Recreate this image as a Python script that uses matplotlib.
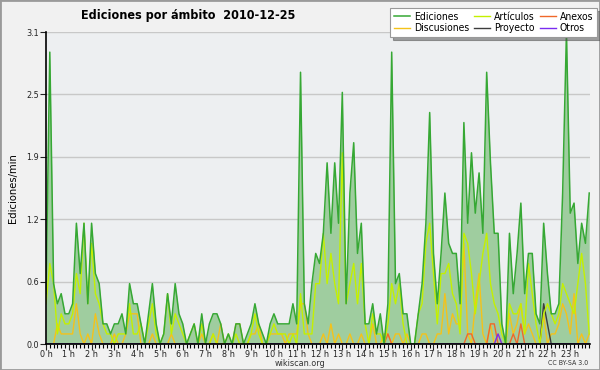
import numpy as np
import matplotlib
matplotlib.use("Agg")
import matplotlib.pyplot as plt
from matplotlib.patches import Rectangle

# ediciones por minuto, una muestra cada 10 minutos (144 por día)
ediciones = [
    0.5, 2.9, 0.6, 0.4, 0.5, 0.3, 0.3, 0.4, 1.2, 0.7, 1.2, 0.4,
    1.2, 0.7, 0.6, 0.2, 0.2, 0.1, 0.2, 0.2, 0.3, 0.1, 0.6, 0.4,
    0.4, 0.2, 0.0, 0.3, 0.6, 0.2, 0.0, 0.1, 0.5, 0.2, 0.6, 0.3,
    0.2, 0.0, 0.1, 0.2, 0.0, 0.3, 0.0, 0.2, 0.3, 0.3, 0.2, 0.0,
    0.1, 0.0, 0.2, 0.2, 0.0, 0.1, 0.2, 0.4, 0.2, 0.1, 0.0, 0.2,
    0.3, 0.2, 0.2, 0.2, 0.2, 0.4, 0.2, 2.7, 0.4, 0.2, 0.6, 0.9,
    0.8, 1.1, 1.8, 1.1, 1.8, 1.2, 2.5, 0.4, 1.5, 2.0, 0.9, 1.2,
    0.2, 0.2, 0.4, 0.1, 0.3, 0.0, 0.4, 2.9, 0.6, 0.7, 0.3, 0.3,
    0.0, 0.0, 0.3, 0.6, 1.2, 2.3, 0.9, 0.4, 0.9, 1.5, 1.0, 0.9,
    0.9, 0.4, 2.2, 1.2, 1.9, 1.3, 1.7, 1.1, 2.7, 1.8, 1.1, 1.1,
    0.2, 0.0, 1.1, 0.5, 0.9, 1.4, 0.5, 0.9, 0.9, 0.3, 0.2, 1.2,
    0.7, 0.3, 0.3, 0.4, 1.5, 3.1, 1.3, 1.4, 0.8, 1.2, 1.0, 1.5,
]
articulos = [
    0.4, 0.8, 0.6, 0.1, 0.3, 0.2, 0.2, 0.3, 0.7, 0.5, 1.2, 0.4,
    1.0, 0.5, 0.4, 0.2, 0.1, 0.1, 0.0, 0.1, 0.1, 0.1, 0.4, 0.1,
    0.1, 0.2, 0.0, 0.2, 0.4, 0.1, 0.0, 0.1, 0.5, 0.1, 0.3, 0.2,
    0.1, 0.0, 0.1, 0.2, 0.0, 0.2, 0.0, 0.0, 0.1, 0.0, 0.0, 0.0,
    0.1, 0.0, 0.1, 0.0, 0.0, 0.0, 0.1, 0.3, 0.1, 0.0, 0.0, 0.1,
    0.2, 0.1, 0.1, 0.1, 0.0, 0.1, 0.0, 0.5, 0.1, 0.1, 0.1, 0.6,
    0.6, 1.1, 0.6, 0.9, 0.6, 0.4, 1.9, 0.4, 0.6, 0.8, 0.4, 0.8,
    0.2, 0.0, 0.3, 0.1, 0.1, 0.0, 0.2, 0.6, 0.4, 0.6, 0.2, 0.0,
    0.0, 0.0, 0.3, 0.4, 1.0, 1.2, 0.7, 0.2, 0.7, 0.7, 0.8, 0.5,
    0.4, 0.1, 1.1, 1.0, 0.7, 0.3, 0.6, 0.9, 1.1, 0.6, 0.4, 0.3,
    0.1, 0.0, 0.4, 0.3, 0.3, 0.4, 0.1, 0.8, 0.5, 0.2, 0.0, 0.3,
    0.4, 0.3, 0.2, 0.3, 0.6, 0.5, 0.4, 0.3, 0.6, 0.9, 0.6, 0.1,
]
discusiones = [
    0.0, 0.0, 0.0, 0.2, 0.1, 0.1, 0.1, 0.1, 0.4, 0.1, 0.0, 0.1,
    0.0, 0.3, 0.1, 0.0, 0.0, 0.0, 0.1, 0.0, 0.0, 0.1, 0.3, 0.3,
    0.3, 0.0, 0.0, 0.0, 0.1, 0.0, 0.0, 0.0, 0.0, 0.1, 0.0, 0.0,
    0.0, 0.0, 0.0, 0.0, 0.0, 0.1, 0.0, 0.0, 0.1, 0.0, 0.2, 0.0,
    0.0, 0.0, 0.2, 0.2, 0.0, 0.0, 0.1, 0.1, 0.2, 0.0, 0.0, 0.1,
    0.1, 0.1, 0.1, 0.0, 0.1, 0.1, 0.1, 0.4, 0.4, 0.1, 0.0, 0.0,
    0.0, 0.1, 0.0, 0.2, 0.0, 0.1, 0.0, 0.0, 0.1, 0.0, 0.0, 0.1,
    0.0, 0.0, 0.2, 0.0, 0.0, 0.1, 0.1, 0.0, 0.1, 0.1, 0.0, 0.1,
    0.0, 0.0, 0.0, 0.1, 0.1, 0.0, 0.0, 0.1, 0.1, 0.5, 0.1, 0.3,
    0.2, 0.2, 1.0, 0.1, 0.0, 0.4, 0.7, 0.1, 0.0, 0.2, 0.0, 0.1,
    0.0, 0.0, 0.3, 0.1, 0.2, 0.4, 0.1, 0.2, 0.1, 0.0, 0.0, 0.3,
    0.0, 0.1, 0.1, 0.2, 0.4, 0.3, 0.1, 0.5, 0.0, 0.1, 0.0, 0.1,
]
anexos = [0.0] * 144
for i, v in {90: 0.1, 111: 0.1, 112: 0.1, 117: 0.2, 118: 0.2,
             123: 0.1, 125: 0.2}.items():
    anexos[i] = v
proyecto = [0.0] * 144
for i, v in {131: 0.4, 132: 0.2}.items():
    proyecto[i] = v
otros = [0.0] * 144
otros[119] = 0.1

horas = np.arange(144) / 6.0
yticks = [0.0, 0.62, 1.24, 1.86, 2.48, 3.1]
ytick_labels = ["0.0", "0.6", "1.2", "1.9", "2.5", "3.1"]
hour_labels = [f"{h} h" for h in range(24)]

plt.rcParams["font.stretch"] = "condensed"

fig = plt.figure(figsize=(6, 3.7), dpi=100, facecolor="#f1f1f1")
ax = fig.add_axes([46 / 600, 26 / 370, 544 / 600, 312 / 370])
ax.set_facecolor("#edeff1")

ax.fill_between(horas, ediciones, color="#9fcd9f", lw=0, zorder=2)
ax.plot(horas, ediciones, color="#36a834", lw=1.1, zorder=5, label="Ediciones")
ax.plot(horas, articulos, color="#c4f000", lw=1.0, zorder=4, label="Artículos")
ax.plot(horas, discusiones, color="#f4c21a", lw=1.0, zorder=3, label="Discusiones")
ax.plot(horas, anexos, color="#f0682a", lw=1.0, zorder=3, label="Anexos")
ax.plot(horas, proyecto, color="#3c3c3c", lw=1.0, zorder=3, label="Proyecto")
ax.plot(horas, otros, color="#7a2cf0", lw=1.0, zorder=3, label="Otros")

ax.set_xlim(0, 143.2 / 6)
ax.set_ylim(0, 3.1)
ax.set_yticks(yticks)
ax.set_yticklabels(ytick_labels)
ax.set_xticks(range(24))
ax.set_xticklabels(hour_labels)
ax.set_xticks(np.arange(0, 24, 1 / 6), minor=True)
ax.tick_params(axis="both", labelsize=6.5, colors="#222222", pad=1)
ax.tick_params(axis="x", which="major", length=4, width=0.8, pad=0.5)
ax.tick_params(axis="x", which="minor", length=3, width=0.8)
ax.tick_params(axis="y", length=4, width=0.8)
ax.grid(axis="y", color="#c8c8c8", lw=1)
ax.set_axisbelow(True)
for s in ["top", "right"]:
    ax.spines[s].set_visible(False)
for s in ["left", "bottom"]:
    ax.spines[s].set_linewidth(1.2)
    ax.spines[s].set_zorder(6)

ax.set_ylabel("Ediciones/min", fontsize=8, labelpad=6)

fig.text(188 / 600, 1 - 16 / 370, "Ediciones por ámbito  2010-12-25",
         fontsize=9, fontweight="bold", ha="center", va="center")
fig.text(300 / 600, 1 - 363 / 370, "wikiscan.org", fontsize=6.5,
         ha="center", va="center", color="#333333")
fig.text(568 / 600, 1 - 363 / 370, "CC BY-SA 3.0", fontsize=5,
         ha="center", va="center", color="#333333")

h, l = ax.get_legend_handles_labels()
orden = [0, 2, 1, 4, 3, 5]  # Ediciones/Discusiones, Artículos/Proyecto, Anexos/Otros
leg = fig.legend([h[k] for k in orden], [l[k] for k in orden], ncol=3,
                 loc="upper right", bbox_to_anchor=(597 / 600, 1 - 8 / 370),
                 fontsize=7.5, frameon=True, fancybox=False, shadow=True,
                 handlelength=1.5, handletextpad=0.4, columnspacing=0.5,
                 labelspacing=0.15, borderpad=0.35, borderaxespad=0)
leg.get_frame().set_edgecolor("#999999")
leg.get_frame().set_linewidth(0.8)

fig.patches.append(Rectangle((0, 0), 1, 1, transform=fig.transFigure,
                             fill=False, edgecolor="#9a9a9a", lw=2))

fig.savefig("out.png", dpi=100, facecolor=fig.get_facecolor())
